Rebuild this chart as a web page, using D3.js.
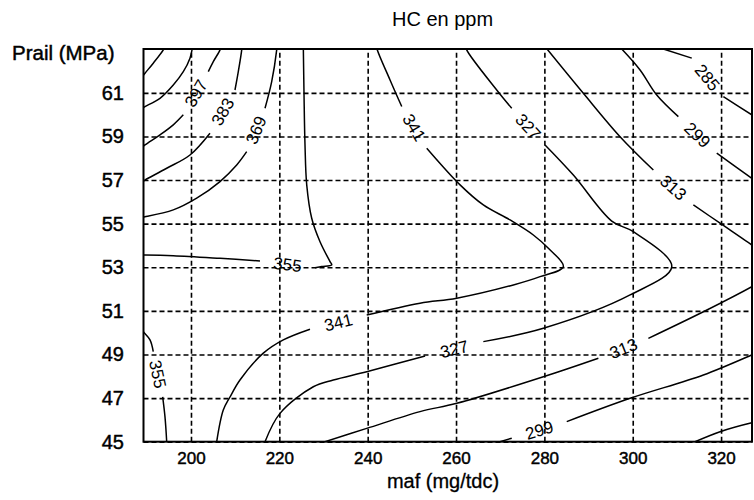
<!DOCTYPE html>
<html>
<head>
<meta charset="utf-8">
<script src="https://cdn.jsdelivr.net/npm/d3@7"></script>
<style>
  body { margin: 0; background: #fff; }
  svg { display: block; font-family: "Liberation Sans", Arial, sans-serif; }
</style>
</head>
<body>
<svg id="chart" width="754" height="500"></svg>
<script>
// Axis ticks and extents (maf in mg/tdc, Prail in MPa)
const xTicks = [200, 220, 240, 260, 280, 300, 320];
const yTicks = [45, 47, 49, 51, 53, 55, 57, 59, 61];
const xDomain = [189.25, 327];
const yDomain = [45, 63.01];

// Iso-HC lines, [maf, Prail] points. Each line is split into parts;
// the level label sits in the gap between consecutive parts.
const hc425 = [
  [[189.0, 61.75], [189.59, 61.90], [191.46, 62.36], [193.73, 62.97], [194.0, 63.1]]
];
const hc411 = [
  [[189.0, 60.30], [189.59, 60.37], [192.98, 60.75], [195.99, 61.36], [198.26, 61.97], [199.77, 62.59], [200.35, 63.1]]
];
const hc397 = [
  [[189.0, 58.51], [189.58, 58.61], [192.98, 59.07], [195.99, 59.53], [198.26, 59.99]],
  [[203.92, 61.97], [205.05, 62.43], [206.57, 62.97], [206.7, 63.1]]
];
const hc383 = [
  [[189.0, 56.93], [189.58, 57.00], [194.50, 57.54], [199.77, 58.15], [204.30, 59.15]],
  [[209.96, 61.13], [210.71, 61.97], [211.48, 62.97], [211.5, 63.1]]
];
const hc369 = [
  [[189.0, 55.30], [189.58, 55.32], [195.99, 55.63], [201.29, 56.17], [206.57, 56.93], [210.35, 57.69], [212.61, 58.30]],
  [[216.76, 60.29], [218.27, 61.51], [219.40, 62.97], [219.45, 63.1]]
];
const hc355a = [
  [[225.43, 63.1], [225.59, 60.90], [225.81, 58.61], [226.20, 56.78], [227.33, 55.25], [229.21, 54.17], [231.47, 53.26], [231.86, 53.11], [229.59, 53.03], [228.08, 52.98]],
  [[215.62, 53.29], [206.57, 53.41], [195.99, 53.53], [189.58, 53.56], [189.0, 53.56]]
];
const hc355b = [
  [[189.0, 50.15], [189.2, 50.05], [190.72, 49.67], [191.46, 49.13]],
  [[193.59, 47.06], [194.11, 46.15], [194.50, 45.0], [194.52, 44.9]]
];
const hc341 = [
  [[205.82, 45.0], [207.31, 46.45], [208.83, 47.05], [211.09, 47.83], [216.37, 49.06], [220.90, 49.67], [226.94, 50.16]],
  [[239.78, 50.81], [251.85, 51.35], [260.16, 51.58], [272.98, 52.19], [279.02, 52.57], [284.30, 53.03], [280.90, 53.87], [277.50, 54.48], [272.23, 55.17], [266.18, 55.86], [260.91, 56.78], [253.37, 58.46]],
  [[247.71, 60.37], [245.06, 61.59], [242.12, 63.01], [242.1, 63.1]]
];
const hc327 = [
  [[216.76, 45.0], [220.15, 46.30], [227.69, 47.52], [232.22, 47.83], [239.78, 48.21], [253.0, 48.93]],
  [[266.18, 49.59], [279.77, 50.20], [299.40, 51.73], [308.84, 53.03], [300.15, 54.63], [295.25, 55.12], [286.56, 57.23], [280.15, 58.61]],
  [[272.61, 60.29], [269.21, 61.13], [262.42, 62.97], [262.35, 63.1]]
];
const hc313a = [
  [[280.60, 63.01], [288.82, 60.98], [297.13, 58.99], [304.67, 57.46]],
  [[313.73, 55.86], [319.77, 55.02], [326.95, 54.02], [327.2, 53.98]]
];
const hc313b = [
  [[230.34, 45.0], [239.78, 45.61], [251.85, 46.38], [260.16, 46.76], [279.77, 47.98], [292.22, 48.83]],
  [[303.54, 49.74], [315.99, 50.96], [326.95, 52.11], [327.2, 52.14]]
];
const hc299a = [
  [[297.51, 63.01], [301.66, 62.05], [305.44, 60.90], [310.33, 59.91]],
  [[319.02, 58.23], [326.95, 57.08], [327.2, 57.05]]
];
const hc299b = [
  [[269.96, 45.0], [272.61, 45.16]],
  [[285.06, 45.92], [299.40, 46.99], [315.99, 48.06], [326.95, 48.98], [327.2, 49.0]]
];
const hc285a = [
  [[306.93, 63.01], [313.36, 62.59]],
  [[320.52, 60.83], [326.95, 59.99], [327.2, 59.96]]
];
const hc285b = [
  [[314.11, 45.0], [319.77, 45.46], [326.95, 45.87], [327.2, 45.88]]
];

const contourLines = [
  { level: 425, parts: hc425 }, { level: 411, parts: hc411 },
  { level: 397, parts: hc397 }, { level: 383, parts: hc383 },
  { level: 369, parts: hc369 }, { level: 355, parts: hc355a },
  { level: 355, parts: hc355b }, { level: 341, parts: hc341 },
  { level: 327, parts: hc327 }, { level: 313, parts: hc313a },
  { level: 313, parts: hc313b }, { level: 299, parts: hc299a },
  { level: 299, parts: hc299b }, { level: 285, parts: hc285a },
  { level: 285, parts: hc285b }
];

const svg = d3.select("#chart");
const plotL = 143.5, plotR = 752, plotT = 49, plotB = 441.7;

const x = d3.scaleLinear().domain(xDomain).range([plotL, plotR]);
const y = d3.scaleLinear().domain(yDomain).range([plotB, plotT]);

// Dashed grid from the axes' tick lines
const gx = svg.append("g")
  .attr("transform", `translate(0,${plotB})`)
  .call(d3.axisBottom(x).tickValues(xTicks).tickSize(-(plotB - plotT)).tickPadding(10).tickFormat(d3.format("d")));
gx.attr("font-family", null).attr("font-size", null);
gx.select(".domain").remove();
gx.selectAll(".tick line").attr("stroke", "#000").attr("stroke-width", 1.6).attr("stroke-dasharray", "5,3");
gx.selectAll(".tick text").attr("font-size", 17).attr("fill", "#000")
  .attr("stroke", "#000").attr("stroke-width", 0.45);

const gy = svg.append("g")
  .attr("transform", `translate(${plotL},0)`)
  .call(d3.axisLeft(y).tickValues(yTicks).tickSize(-(plotR - plotL)).tickPadding(19.5).tickFormat(d3.format("d")));
gy.attr("font-family", null).attr("font-size", null);
gy.select(".domain").remove();
gy.selectAll(".tick line").attr("stroke", "#000").attr("stroke-width", 1.6).attr("stroke-dasharray", "5,3");
gy.selectAll(".tick text").attr("font-size", 20).attr("fill", "#000")
  .attr("stroke", "#000").attr("stroke-width", 0.45);

// Contour lines
svg.append("clipPath").attr("id", "plot-clip")
  .append("rect").attr("x", plotL).attr("y", plotT).attr("width", plotR - plotL).attr("height", plotB - plotT);

const line = d3.line()
  .x(d => x(d[0])).y(d => y(d[1]))
  .curve(d3.curveCatmullRom.alpha(0.5));

const gc = svg.append("g").attr("clip-path", "url(#plot-clip)");
contourLines.forEach(c => {
  c.parts.forEach(p => {
    gc.append("path").attr("d", line(p))
      .attr("fill", "none").attr("stroke", "#000").attr("stroke-width", 1.5)
      .attr("stroke-linejoin", "round");
  });
});

// Level labels placed in the gaps, aligned with the line direction
const labels = [];
contourLines.forEach(c => {
  for (let i = 0; i < c.parts.length - 1; i++) {
    const a = c.parts[i][c.parts[i].length - 1];
    const b = c.parts[i + 1][0];
    const ax = x(a[0]), ay = y(a[1]), bx = x(b[0]), by = y(b[1]);
    let ang = Math.atan2(by - ay, bx - ax) * 180 / Math.PI;
    if (ang > 90) ang -= 180;
    if (ang < -90) ang += 180;
    labels.push({ text: c.level, cx: (ax + bx) / 2, cy: (ay + by) / 2, ang });
  }
});
svg.append("g").selectAll("text").data(labels).join("text")
  .attr("transform", d => `translate(${d.cx},${d.cy}) rotate(${d.ang})`)
  .attr("text-anchor", "middle").attr("dy", "0.36em")
  .attr("font-size", 17).attr("fill", "#000")
  .text(d => d.text);

// Frame
svg.append("rect").attr("x", plotL).attr("y", plotT)
  .attr("width", plotR - plotL).attr("height", plotB - plotT)
  .attr("fill", "none").attr("stroke", "#000").attr("stroke-width", 2);

// Titles
svg.append("text").attr("x", 392).attr("y", 26).attr("font-size", 20).attr("fill", "#000").text("HC en ppm");
svg.append("text").attr("x", 12).attr("y", 60).attr("font-size", 20.5).attr("fill", "#000")
  .attr("stroke", "#000").attr("stroke-width", 0.45).text("Prail (MPa)");
svg.append("text").attr("x", 443).attr("y", 488).attr("text-anchor", "middle").attr("font-size", 20).attr("fill", "#000")
  .attr("stroke", "#000").attr("stroke-width", 0.3).text("maf (mg/tdc)");
</script>
</body>
</html>
